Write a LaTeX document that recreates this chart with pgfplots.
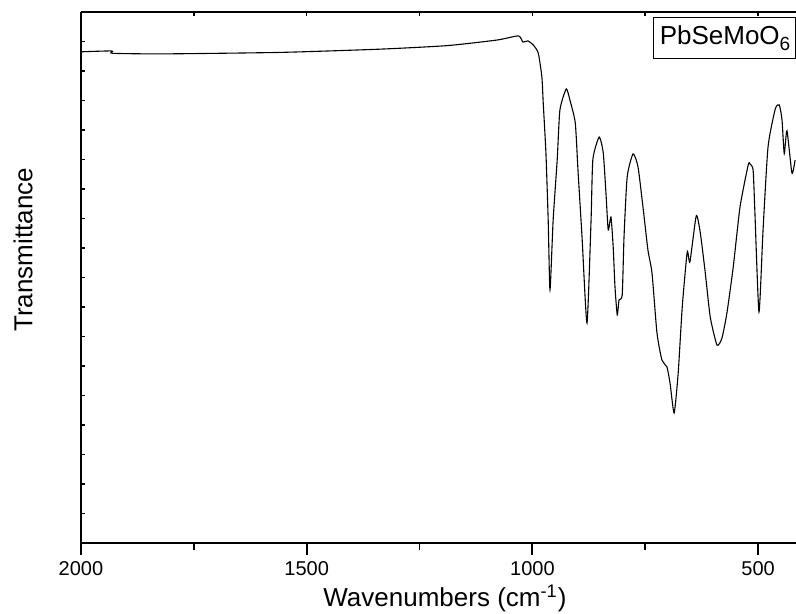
\documentclass[border=0pt]{standalone}
\usepackage{fontspec}
\setmainfont{Liberation Sans}
\usepackage{pgfplots}
\pgfplotsset{compat=1.18}

% IR spectrum, wavenumber vs. transmittance (arb. units)
\pgfplotstableread{
x y
2000 16.65
1932 16.68
1930 16.60
1818 16.58
1559 16.63
1338 16.74
1189 16.86
1078 17.05
1031 17.19
1021 16.98
1010 17.02
998 16.88
987 16.61
979 15.80
976 14.92
970 13.22
965 10.95
961 8.58
954 10.95
945 13.00
939 14.68
925 15.39
917 15.02
905 14.24
899 12.64
890 10.37
879 7.46
870 10.95
866 13.00
852 13.76
843 13.22
837 11.86
832 10.61
826 11.05
821 10.03
817 8.68
812 7.73
808 8.24
801 8.41
797 10.37
790 12.41
777 13.19
766 12.75
755 11.39
744 9.93
735 9.15
724 7.12
713 6.20
702 5.97
695 5.42
686 4.41
677 5.76
668 8.00
657 9.86
651 9.53
637 11.09
628 10.51
617 9.16
606 7.66
591 6.71
580 6.95
569 7.80
555 9.36
540 11.39
522 12.81
518 12.85
511 12.64
507 11.19
498 7.83
489 10.61
478 13.42
462 14.71
453 14.85
447 14.34
442 13.20
436 13.97
425 12.54
418 12.98
}\spectrum

\begin{document}
\begin{tikzpicture}
\pgfplotsset{
  irbase/.style={
    scale only axis,
    width=357.5pt, height=265.5pt,
    xmin=416, xmax=2000, x dir=reverse,
    ymin=0, ymax=18,
    xtick={500,1000,1500,2000},
    minor x tick num=1,
    axis line style={line width=1pt},
    /pgf/number format/assume math mode=true,
    /pgf/number format/1000 sep={},
  }
}
\begin{axis}[
    irbase,
    axis x line*=bottom, axis y line*=left,
    tick align=outside,
    ytick=\empty,
    major tick length=6pt, minor tick length=3.5pt,
    tick style={line width=0.9pt, black},
    xticklabel style={font=\fontsize{10}{12}\selectfont, inner sep=1pt, yshift=-2pt},
    xlabel={Wavenumbers (cm\textsuperscript{-1})},
    ylabel={Transmittance},
    label style={font=\fontsize{13}{15}\selectfont},
    xlabel style={at={(axis description cs:0.509,-0.104)}, anchor=center},
    ylabel style={at={(axis description cs:-0.081,0.552)}, anchor=center, rotate=0},
]
\addplot[black, line width=0.55pt, smooth, tension=0.35] table[x=x, y=y] {\spectrum};
\end{axis}

\begin{axis}[
    irbase,
    axis x line*=top, axis y line*=left,
    tick align=inside,
    ytick={0,1,...,18},
    xticklabels={}, yticklabels={},
    major tick length=2pt, minor tick length=2pt,
    tick style={line width=0.8pt, black},
]
\end{axis}

\draw[line width=0.5pt] (286pt,242pt) rectangle (357pt,262.5pt);
\node[font=\fontsize{13}{15}\selectfont] at (322pt,252.5pt) {PbSeMoO\raisebox{-0.45ex}{\fontsize{9.5}{11}\selectfont 6}};

\pgfresetboundingbox
\path[use as bounding box] (-40.5pt,-35.5pt) rectangle (357.5pt,271.5pt);
\end{tikzpicture}
\end{document}
